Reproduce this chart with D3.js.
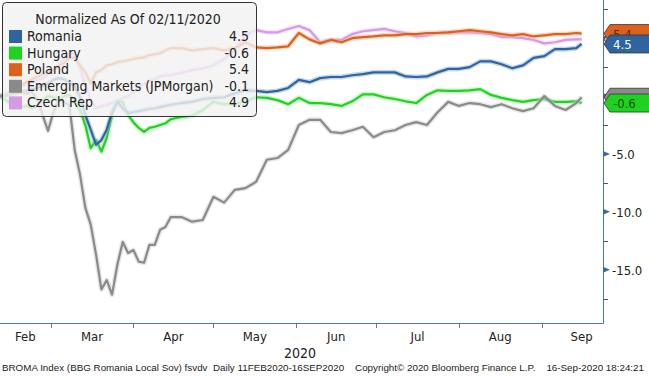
<!DOCTYPE html>
<html>
<head>
<meta charset="utf-8">
<script src="https://cdn.jsdelivr.net/npm/d3@7"></script>
<style>
  body { margin: 0; background: #fff; }
  text { font-family: "DejaVu Sans Condensed", "Liberation Sans", sans-serif; }
  text.footer { font-family: "Liberation Sans", sans-serif; }
</style>
</head>
<body>
<script>
// sample dates (2-day steps through mid April, then 4-day steps)
const dates = [
  "2020-02-11","2020-02-13","2020-02-15","2020-02-17","2020-02-19","2020-02-21","2020-02-23","2020-02-25","2020-02-27","2020-02-29",
  "2020-03-02","2020-03-04","2020-03-06","2020-03-08","2020-03-10","2020-03-12","2020-03-14","2020-03-16","2020-03-18","2020-03-20",
  "2020-03-22","2020-03-24","2020-03-26","2020-03-28","2020-03-30",
  "2020-04-01","2020-04-03","2020-04-05","2020-04-07","2020-04-09","2020-04-11","2020-04-13","2020-04-15",
  "2020-04-19","2020-04-23","2020-04-27","2020-05-01","2020-05-05","2020-05-09","2020-05-13","2020-05-17","2020-05-21","2020-05-25",
  "2020-05-29","2020-06-02","2020-06-06","2020-06-10","2020-06-14","2020-06-18","2020-06-22","2020-06-26","2020-06-30","2020-07-04",
  "2020-07-08","2020-07-12","2020-07-16","2020-07-20","2020-07-24","2020-07-28","2020-08-01","2020-08-05","2020-08-09","2020-08-13",
  "2020-08-17","2020-08-21","2020-08-25","2020-08-29","2020-09-02","2020-09-06","2020-09-10","2020-09-14","2020-09-16"
];

const romania = [
  0, 0.05, 0.15, 0.3, 0.35, 0.45, 0.6, 0.7, 0.85, 1.1,
  1.4, 1.55, 1.45, 1.2, 0.85, -0.1, -1.65, -2.9, -4.2, -3.8, -2.9, -1.4, -0.5, -1.05, -1.45,
  -1.4, -1.3, -1.2, -1.1, -1.05, -0.95, -0.85, -0.75,
  -0.6, -0.5, -0.25, -0.15, -0.1, 0.25, 0.5, 0.45, 0.35, 0.45, 0.7, 1.4, 1.2, 1.55, 1.65, 1.65, 1.8, 1.9, 2.05, 2.05,
  2.05, 1.7, 1.65, 1.7, 2.05, 2.35, 2.35, 2.5, 3.0, 3.0, 2.75, 2.4, 2.65, 3.3, 3.45, 4.05, 4.05, 4.15, 4.5
];
const hungary = [
  0, -0.3, -0.7, -0.8, -0.95, -0.85, -1.05, -0.85, -0.35, 0,
  -0.1, -0.35, 0, 0.1, -0.35, -1.2, -2.5, -4.5, -3.8, -4.8, -3.6, -1.65, -0.45, -0.5, -1.65,
  -2.25, -2.75, -3.1, -2.75, -2.65, -2.5, -2.35, -2.0,
  -1.8, -1.7, -1.2, -0.5, -0.7, -0.7, -0.45, -0.1, -0.15, -0.35, -0.7, -0.15, -0.6, -0.6, -0.7, -0.85, -0.45, 0.15, 0.15, -0.1,
  -0.25, -0.45, -0.6, 0.1, 0.5, 0.45, 0.45, 0.5, 0.6, 0.1, -0.15, -0.35, -0.5, -0.35, -0.25, -0.5, -0.5, -0.45, -0.6
];
const poland = [
  0, 0.1, 0.35, 0.7, 0.95, 1.2, 1.45, 1.7, 1.9, 2.05,
  2.25, 2.6, 2.85, 3.3, 3.3, 2.65, 2.05, 1.1, 2.05, 2.25, 2.65, 2.75, 2.95, 3.0, 3.1,
  3.2, 3.3, 3.35, 3.55, 3.6, 3.7, 3.95, 4.15,
  4.15, 3.95, 4.05, 4.15, 3.95, 4.15, 4.65, 4.2, 4.15, 4.2, 4.3, 5.45, 4.9, 4.55, 4.85, 4.65, 5.0, 5.1, 5.15, 5.25,
  5.25, 5.35, 5.35, 5.45, 5.45, 5.5, 5.6, 5.7, 5.6, 5.5, 5.35, 5.25, 5.35, 5.15, 5.25, 5.35, 5.35, 5.45, 5.4
];
const emerging = [
  0, 0, 0.2, 0.25, 0.35, 0.2, 0.35, -0.35, -1.65, -3.0,
  -1.4, -0.35, -0.5, -0.8, -4.65, -6.8, -9.65, -11.1, -13.7, -16.7, -15.9, -17.15, -14.55, -12.6, -13.55,
  -13.3, -14.3, -14.4, -12.85, -12.85, -11.55, -11.3, -10.45,
  -10.45, -10.85, -10.7, -8.7, -9.2, -8.1, -7.95, -7.4, -5.5, -5.35, -4.65, -2.5, -2.05, -2.05, -3.1, -3.2, -2.95, -2.65, -3.55, -3.1,
  -2.95, -2.5, -2.25, -2.5, -1.4, -0.5, -0.85, -0.6, -0.7, -0.95, -0.7, -1.05, -1.3, -1.05, 0, -0.85, -1.2, -0.6, -0.1
];
const czech = [
  0, 0.15, 0.45, 0.7, 0.85, 1.05, 1.2, 1.4, 1.55, 1.9,
  2.25, 2.65, 3.3, 3.6, 3.7, 2.4, 0.95, -0.35, -1.05, -0.85, -0.8, -0.6, -0.45, -0.15, 0,
  0.35, 0.7, 1.05, 1.3, 1.45, 1.7, 1.8, 1.8,
  2.0, 2.25, 2.4, 2.65, 3.2, 3.95, 5.25, 5.7, 5.5, 5.5, 5.8, 6.05, 5.7, 4.65, 4.85, 4.85, 5.35, 5.6, 5.7, 5.8,
  5.6, 5.45, 5.15, 5.25, 5.45, 5.5, 5.5, 5.5, 5.45, 5.35, 5.1, 5.1, 5.0, 4.85, 4.55, 4.65, 4.85, 4.9, 4.9
];

const seriesNames = ["Romania", "Hungary", "Poland", "Emerging Markets (JPMorgan)", "Czech Rep"];
const lastValues = [4.5, -0.6, 5.4, -0.1, 4.9];
const monthLabels = ["Feb", "Mar", "Apr", "May", "Jun", "Jul", "Aug", "Sep"];
const monthStarts = ["2020-02-01","2020-03-01","2020-04-01","2020-05-01","2020-06-01","2020-07-01","2020-08-01","2020-09-01","2020-10-01"];
const yTicks = [5, 0, -5, -10, -15];
const yTickLabels = [-5, -10, -15];   // 5.0 and 0.0 sit under the value tags
const yMinorTicks = [7.5, 2.5, -2.5, -7.5, -12.5, -17.5];
const footerText = "BROMA Index (BBG Romania Local Sov) fsvdv  Daily 11FEB2020-16SEP2020    Copyright\u00A9 2020 Bloomberg Finance L.P.    16-Sep-2020 18:24:21";

const width = 649;
const height = 376;
const plotRight = 603;
const plotBottom = 323;

const parse = d3.timeParse("%Y-%m-%d");

const x = d3.scaleTime()
    .domain([parse("2020-02-11"), parse("2020-09-24")])
    .range([0, plotRight]);

const y = d3.scaleLinear()
    .domain([-19.6, 8.3])
    .range([plotBottom, 0]);

const series = [
  { name: seriesNames[0], values: romania, color: "#2f64a0", halo: "#8fb0d6", last: lastValues[0], text: "#fff" },
  { name: seriesNames[1], values: hungary, color: "#1fd21f", halo: "#9bf09b", last: lastValues[1], text: "#1a4d1a" },
  { name: seriesNames[2], values: poland, color: "#dc621c", halo: "#f2b38c", last: lastValues[2], text: "#5a2a0a" },
  { name: seriesNames[3], values: emerging, color: "#8a8a8a", halo: "#cfcfcf", last: lastValues[3], text: "#fff" },
  { name: seriesNames[4], values: czech, color: "#d49ae6", halo: "#ecd0f4", last: lastValues[4], text: "#4a2a55" }
];

const svg = d3.select("body").append("svg")
    .attr("width", width)
    .attr("height", height)
    .attr("viewBox", [0, 0, width, height]);

svg.append("rect").attr("width", width).attr("height", height).attr("fill", "#fff");

const line = d3.line()
    .x((d, i) => x(parse(dates[i])))
    .y(d => y(d));

// lines: czech, poland, hungary, romania, emerging
const drawOrder = [4, 2, 1, 0, 3];
const lines = svg.append("g").attr("fill", "none").attr("stroke-linejoin", "round");
drawOrder.forEach(i => {
  const s = series[i];
  lines.append("path")
      .attr("d", line(s.values))
      .attr("stroke", s.halo)
      .attr("stroke-width", 5)
      .attr("stroke-opacity", 0.5);
  lines.append("path")
      .attr("d", line(s.values))
      .attr("stroke", s.color)
      .attr("stroke-width", 2.2);
});

// axis frame
svg.append("line")
    .attr("x1", plotRight + 0.5).attr("x2", plotRight + 0.5)
    .attr("y1", 0).attr("y2", plotBottom + 0.5)
    .attr("stroke", "#4d77a3").attr("stroke-width", 1);
svg.append("line")
    .attr("x1", 0).attr("x2", plotRight + 0.5)
    .attr("y1", plotBottom + 0.5).attr("y2", plotBottom + 0.5)
    .attr("stroke", "#4d77a3").attr("stroke-width", 1);

// x ticks at month starts, labels centred in each month (first one clipped at the left edge)
const xAxis = svg.append("g");
monthStarts.slice(1, 8).forEach(m => {
  const px = Math.round(x(parse(m))) + 0.5;
  xAxis.append("line")
      .attr("x1", px).attr("x2", px)
      .attr("y1", plotBottom + 1).attr("y2", plotBottom + 5)
      .attr("stroke", "#777");
});
monthLabels.forEach((m, i) => {
  const cx = (Math.max(0, x(parse(monthStarts[i]))) + x(parse(monthStarts[i + 1]))) / 2;
  xAxis.append("text")
      .attr("x", cx)
      .attr("y", 341)
      .attr("text-anchor", "middle")
      .attr("fill", "#222")
      .style("font-size", "13px")
      .text(m);
});
svg.append("text")
    .attr("x", 300).attr("y", 358)
    .attr("text-anchor", "middle")
    .attr("fill", "#222")
    .style("font-size", "14px")
    .text("2020");

// right axis
const yAxis = svg.append("g");
yMinorTicks.forEach(t => {
  yAxis.append("line")
      .attr("x1", plotRight).attr("x2", plotRight + 5)
      .attr("y1", Math.round(y(t)) + 0.5).attr("y2", Math.round(y(t)) + 0.5)
      .attr("stroke", "#555");
});
yTicks.forEach(t => {
  const py = y(t);
  yAxis.append("path")
      .attr("d", `M${plotRight},${py - 3}L${plotRight + 7},${py}L${plotRight},${py + 3}Z`)
      .attr("fill", "#3d6b9c");
});
yTickLabels.forEach(t => {
  yAxis.append("text")
      .attr("x", plotRight + 9)
      .attr("y", y(t) + 5)
      .attr("fill", "#222")
      .style("font-size", "13px")
      .text(t.toFixed(1));
});

// last value tags (czech and emerging tags are covered by the ones drawn after them)
const tagOrder = [4, 2, 0, 3, 1];
const tagLabelled = [false, true, true, false, true];
const defs = svg.append("defs");
// the Poland tag only shows its top strip above the Romania tag
defs.append("clipPath").attr("id", "polandClip")
  .append("rect")
    .attr("x", plotRight).attr("y", y(lastValues[2]) - 9)
    .attr("width", width - plotRight).attr("height", y(lastValues[0]) - y(lastValues[2]));
tagOrder.forEach((i, k) => {
  const s = series[i];
  const cy = y(s.last);
  svg.append("path")
      .attr("d", `M${plotRight + 1},${cy}L${plotRight + 7},${cy - 9}L${width + 2},${cy - 9}L${width + 2},${cy + 9}L${plotRight + 7},${cy + 9}Z`)
      .attr("fill", s.color)
      .attr("stroke", "#333")
      .attr("stroke-width", 0.8);
  if (tagLabelled[k]) {
    const tx = svg.append("text")
        .attr("x", plotRight + 10)
        .attr("y", cy + 5)
        .attr("fill", s.text)
        .style("font-size", "13px")
        .text(s.last.toFixed(1));
    if (i === 2) tx.attr("clip-path", "url(#polandClip)");
  }
});

// legend
const legend = svg.append("g");
legend.append("rect")
    .attr("x", 2.5).attr("y", 2.5)
    .attr("width", 254).attr("height", 114)
    .attr("rx", 4)
    .attr("fill", "#f1f1f1")
    .attr("fill-opacity", 0.82)
    .attr("stroke", "#333");
legend.append("text")
    .attr("x", 128).attr("y", 24)
    .attr("text-anchor", "middle")
    .attr("fill", "#222")
    .style("font-size", "14px")
    .text("Normalized As Of 02/11/2020");
series.forEach((s, i) => {
  const by = 41 + i * 16.6;
  legend.append("rect")
      .attr("x", 9).attr("y", by - 11)
      .attr("width", 13).attr("height", 13)
      .attr("fill", s.color);
  legend.append("text")
      .attr("x", 27).attr("y", by)
      .attr("fill", "#222")
      .style("font-size", "14px")
      .text(s.name);
  legend.append("text")
      .attr("x", 249).attr("y", by)
      .attr("text-anchor", "end")
      .attr("fill", "#222")
      .style("font-size", "14px")
      .text(s.last.toFixed(1));
});

// footer, one line
svg.append("text")
    .attr("class", "footer")
    .attr("x", 2).attr("y", 371)
    .attr("fill", "#222")
    .attr("textLength", 642)
    .attr("lengthAdjust", "spacingAndGlyphs")
    .style("font-size", "9.5px")
    .style("white-space", "pre")
    .text(footerText);
</script>
</body>
</html>
